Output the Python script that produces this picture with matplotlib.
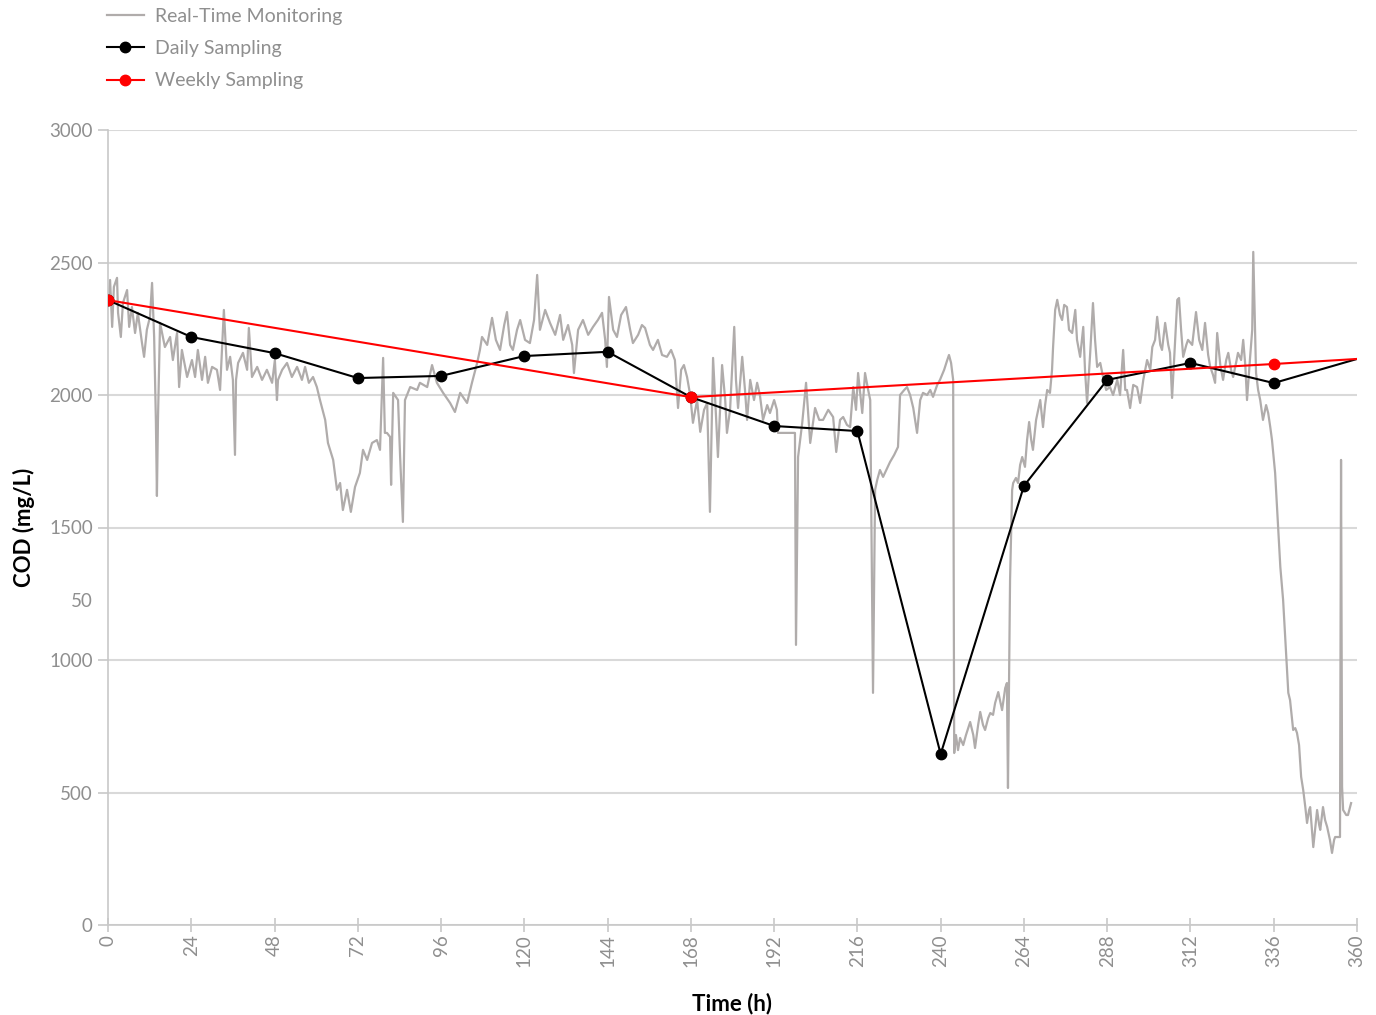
import matplotlib
matplotlib.use("Agg")
import matplotlib.pyplot as plt
from matplotlib.lines import Line2D
import numpy as np

plt.rcParams['font.family'] = ['Lato', 'DejaVu Sans']

# real-time monitoring
rt_hours = [
    0.0, 0.6, 1.2, 1.7, 2.6, 2.9, 3.7, 4.3, 5.5, 6.1, 6.9, 7.8, 8.6, 9.8, 10.4, 11.2,
    12.1, 12.7, 13.3, 13.8, 14.1, 14.4, 15.0, 16.4, 17.9, 18.7, 19.9, 20.5, 21.3, 22.8,
    24.2, 25.1, 25.9, 27.1, 28.0, 28.8, 30.0, 31.4, 32.3, 33.4, 34.3, 35.2, 36.0, 36.6,
    36.9, 37.5, 38.9, 40.1, 40.6, 41.5, 43.0, 44.4, 45.8, 47.3, 48.1, 48.7, 49.0, 50.2,
    51.6, 53.0, 54.5, 55.9, 56.8, 57.9, 59.1, 60.2, 61.1, 62.6, 63.4, 64.9, 66.0, 66.9,
    67.7, 68.9, 70.0, 71.2, 72.6, 73.5, 74.7, 76.1, 77.5, 78.4, 79.3, 79.8, 80.4, 81.3,
    81.6, 82.2, 83.6, 84.2, 85.0, 85.6, 87.1, 89.1, 89.9, 92.0, 93.4, 94.8, 96.6, 98.6,
    100.0, 101.5, 103.5, 104.9, 106.4, 107.2, 107.8, 109.3, 110.7, 111.8, 113.0, 114.2,
    115.0, 115.9, 116.7, 117.9, 118.8, 120.2, 121.6, 122.8, 123.7, 124.5, 126.0, 127.4,
    128.9, 130.3, 131.2, 132.6, 133.8, 134.3, 135.5, 136.9, 138.4, 139.8, 141.2, 142.4,
    143.3, 143.8, 144.4, 145.6, 146.7, 147.9, 149.3, 150.5, 151.3, 152.8, 153.9, 154.8,
    156.2, 157.1, 158.5, 159.7, 161.1, 162.3, 163.4, 164.3, 165.2, 166.0, 166.9, 167.8,
    168.6, 169.8, 170.7, 171.8, 172.7, 173.5, 174.4, 175.3, 175.8, 177.0, 177.9, 178.4,
    179.3, 180.5, 181.0, 181.6, 182.8, 183.6, 184.2, 185.1, 186.2, 187.1, 187.9, 188.8,
    190.0, 190.8, 192.0, 192.8, 193.1, 195.2, 198.0, 198.3, 198.9, 200.1, 201.2, 202.4,
    203.8, 205.0, 206.1, 207.6, 209.0, 209.9, 211.0, 211.9, 213.0, 213.9, 214.8, 215.6,
    216.2, 217.4, 218.2, 219.1, 219.7, 220.5, 221.1, 221.7, 222.5, 223.4, 224.6, 225.4,
    226.6, 227.7, 228.3, 229.5, 230.3, 231.2, 232.1, 233.2, 234.1, 234.9, 236.1, 237.0,
    237.8, 239.0, 239.8, 241.0, 241.9, 242.4, 243.0, 243.6, 243.9, 244.4, 245.0, 245.6,
    246.5, 247.3, 248.5, 249.4, 249.9, 250.8, 251.4, 252.2, 252.8, 253.7, 254.3, 255.1,
    255.7, 256.6, 257.7, 258.6, 259.1, 259.4, 260.0, 260.6, 260.9, 261.7, 262.3, 262.9,
    263.5, 264.3, 264.9, 265.5, 266.1, 266.6, 267.5, 268.7, 269.5, 270.1, 270.7, 271.5,
    272.1, 272.4, 273.0, 273.6, 274.4, 275.0, 275.6, 276.4, 277.0, 277.9, 278.8, 279.3,
    280.2, 281.1, 281.6, 282.2, 283.1, 283.9, 284.5, 285.1, 286.0, 286.8, 287.7, 288.8,
    289.7, 290.9, 291.7, 292.6, 293.2, 293.7, 294.6, 295.5, 296.6, 297.5, 298.4, 299.5,
    300.4, 301.0, 301.8, 302.4, 303.3, 303.8, 304.7, 305.6, 306.1, 306.7, 307.6, 308.2,
    308.7, 309.3, 309.9, 310.8, 311.3, 312.5, 313.6, 314.5, 315.4, 316.2, 317.1, 317.7,
    318.5, 319.1, 319.7, 320.6, 321.4, 322.3, 322.9, 323.7, 324.3, 325.2, 325.7, 326.6,
    327.2, 327.8, 328.3, 329.2, 329.8, 330.1, 330.6, 330.9, 331.5, 332.1, 332.9, 333.8,
    334.4, 335.0, 335.5, 336.4, 337.3, 337.9, 338.7, 339.3, 340.2, 340.7, 341.6, 342.2,
    342.7, 343.3, 343.9, 344.5, 345.1, 345.6, 346.2, 346.5, 347.4, 347.9, 348.5, 349.1,
    349.4, 350.2, 350.8, 351.4, 352.2, 352.8, 353.4, 353.7, 354.8, 355.1, 355.4, 355.7,
    356.0, 356.9, 357.4, 358.3,
]
rt_cod = [
    2359, 2434, 2257, 2408, 2442, 2310, 2219, 2347, 2396, 2257, 2332, 2234, 2310, 2196, 2144, 2246,
    2295, 2423, 2219, 1906, 1619, 1906, 2272, 2181, 2219, 2132, 2234, 2030, 2170, 2068,
    2132, 2068, 2170, 2057, 2144, 2046, 2106, 2095, 2019, 2321, 2095, 2144, 2057, 1774,
    2057, 2121, 2159, 2095, 2253, 2068, 2106, 2057, 2095, 2046, 2132, 1981, 2057, 2095,
    2121, 2068, 2106, 2057, 2106, 2046, 2068, 2030, 1981, 1906, 1819, 1755, 1642, 1668,
    1566, 1642, 1559, 1653, 1706, 1793, 1755, 1819, 1830, 1793, 2140, 1857, 1857, 1842,
    1661, 2008, 1981, 1766, 1521, 1981, 2030, 2019, 2046, 2030, 2113, 2046, 2008, 1970,
    1936, 2008, 1970, 2046, 2121, 2170, 2219, 2189, 2291, 2208, 2170, 2264,
    2313, 2189, 2170, 2246, 2283, 2208, 2196, 2283, 2453, 2246, 2321, 2272,
    2227, 2302, 2208, 2264, 2189, 2083, 2246, 2283, 2227, 2257, 2283, 2310,
    2208, 2106, 2370, 2246, 2219, 2302, 2332, 2246, 2196, 2227, 2264, 2253,
    2189, 2170, 2208, 2151, 2144, 2170, 2132, 1951, 2095, 2113, 2068, 2000,
    1895, 1981, 1861, 1944, 1970, 1559, 2140, 1906, 1766, 2113, 1981, 1857,
    1944, 2257, 2057, 1951, 2144, 2019, 1906, 2057, 1981, 2046, 2000, 1906,
    1962, 1932, 1981, 1944, 1857, 1857, 1857, 1057, 1766, 1895, 2046, 1819,
    1951, 1906, 1906, 1944, 1917, 1785, 1906, 1917, 1887, 1879, 2030, 1944,
    2083, 1932, 2083, 2019, 1981, 876, 1642, 1679, 1717, 1691, 1725, 1747,
    1774, 1804, 2000, 2019, 2030, 2000, 1951, 1857, 1981, 2008, 2000, 2019,
    1993, 2038, 2057, 2095, 2132, 2151, 2121, 2057, 649, 717, 660, 706,
    679, 717, 766, 717, 668, 755, 804, 755, 736, 781, 800, 793,
    838, 879, 811, 894, 913, 517, 1302, 1642, 1668, 1687, 1668, 1736,
    1766, 1729, 1830, 1898, 1830, 1793, 1906, 1981, 1879, 1962, 2019, 2008,
    2095, 2181, 2321, 2359, 2302, 2283, 2340, 2332, 2246, 2234, 2321, 2208,
    2144, 2257, 2095, 1970, 2159, 2347, 2208, 2106, 2121, 2068, 2019, 2030,
    2000, 2057, 2000, 2170, 2019, 2019, 1951, 2038, 2030, 1970, 2057, 2132,
    2095, 2181, 2208, 2295, 2189, 2170, 2272, 2189, 2159, 1989, 2208, 2359,
    2366, 2246, 2144, 2189, 2208, 2189, 2313, 2208, 2170, 2272, 2151, 2106,
    2076, 2046, 2234, 2113, 2057, 2132, 2159, 2095, 2068, 2125, 2159, 2132,
    2208, 2113, 1981, 2144, 2246, 2540, 2246, 2083, 2019, 1981, 1906, 1962,
    1932, 1879, 1830, 1706, 1491, 1351, 1227, 1087, 876, 849, 736, 743,
    725, 679, 559, 509, 445, 385, 434, 445, 294, 359, 434, 377,
    359, 445, 396, 370, 321, 272, 321, 332, 332, 332, 1755, 521,
    434, 415, 415, 460,
]

# daily grab samples
daily_hours = [0, 24, 48, 72, 96, 120, 144, 168, 192, 216, 240, 264, 288, 312, 336, 360]
daily_cod = [2358, 2219, 2158, 2064, 2072, 2147, 2163, 1992, 1883, 1864, 645, 1657, 2057, 2121, 2045, 2136]

# weekly grab samples
weekly_hours = [0, 168, 336, 360]
weekly_cod = [2358, 1992, 2117, 2136]

x_ticks = list(range(0, 361, 24))
y_ticks = [0, 500, 1000, 1225, 1500, 2000, 2500, 3000]
y_labels = ['0', '500', '1000', '50', '1500', '2000', '2500', '3000']

gray = '#b0acab'
txt = '#8f8f8f'
grid = '#d9d9d9'

fig = plt.figure(figsize=(13.76, 10.15), dpi=100)
ax = fig.add_axes([108 / 1376, 90 / 1015, 1249 / 1376, 795 / 1015])

ax.plot(rt_hours, rt_cod, color=gray, lw=1.6, zorder=2)
ax.plot(daily_hours, daily_cod, color='black', lw=1.5, zorder=3)
ax.plot(daily_hours[:-1], daily_cod[:-1], 'o', color='black', ms=7.5, zorder=4)
ax.plot(weekly_hours, weekly_cod, color='#ff0000', lw=1.5, zorder=5)
ax.plot(weekly_hours[:-1], weekly_cod[:-1], 'o', color='#ff0000', ms=7.5, zorder=6)

ax.set_xlim(0, 360)
ax.set_ylim(0, 3000)
ax.set_xticks(x_ticks)
ax.set_xticklabels([str(t) for t in x_ticks], rotation=90)
ax.set_yticks(y_ticks)
ax.set_yticklabels(y_labels)
ax.yaxis.grid(True, color=grid, lw=1.5)
ax.set_axisbelow(True)

for s in ['top', 'right']:
    ax.spines[s].set_visible(False)
ax.spines['left'].set_color('#c8c8c8')
ax.spines['bottom'].set_color('#c8c8c8')
ax.spines['left'].set_linewidth(1.2)
ax.spines['bottom'].set_linewidth(1.2)

ax.tick_params(axis='x', direction='inout', length=10, width=1.2, color='#c8c8c8',
               labelcolor=txt, labelsize=13.5, pad=2)
ax.tick_params(axis='y', direction='out', length=7, width=1.2, color='#c8c8c8',
               labelcolor=txt, labelsize=13.5, pad=4)

# the odd "50" label has no grid line or tick mark
odd = ax.yaxis.get_major_ticks()[3]
odd.gridline.set_visible(False)
odd.tick1line.set_visible(False)

ax.set_xlabel('Time (h)', fontsize=16, fontweight='bold', color='black', labelpad=18)
ax.set_ylabel('COD (mg/L)', fontsize=16, fontweight='bold', color='black', labelpad=10)

handles = [
    Line2D([], [], color=gray, lw=1.6),
    Line2D([], [], color='black', lw=1.5, marker='o', ms=7.5),
    Line2D([], [], color='#ff0000', lw=1.5, marker='o', ms=7.5),
]
labels = ['Real-Time Monitoring', 'Daily Sampling', 'Weekly Sampling']
leg = fig.legend(handles, labels, loc='upper left', bbox_to_anchor=(106 / 1376, 1 - 7 / 1015),
                 frameon=False, fontsize=14, handlelength=1.9, handletextpad=0.55,
                 labelspacing=0.78, borderaxespad=0, borderpad=0.05)
for t in leg.get_texts():
    t.set_color(txt)

fig.savefig('out.png', dpi=100)
